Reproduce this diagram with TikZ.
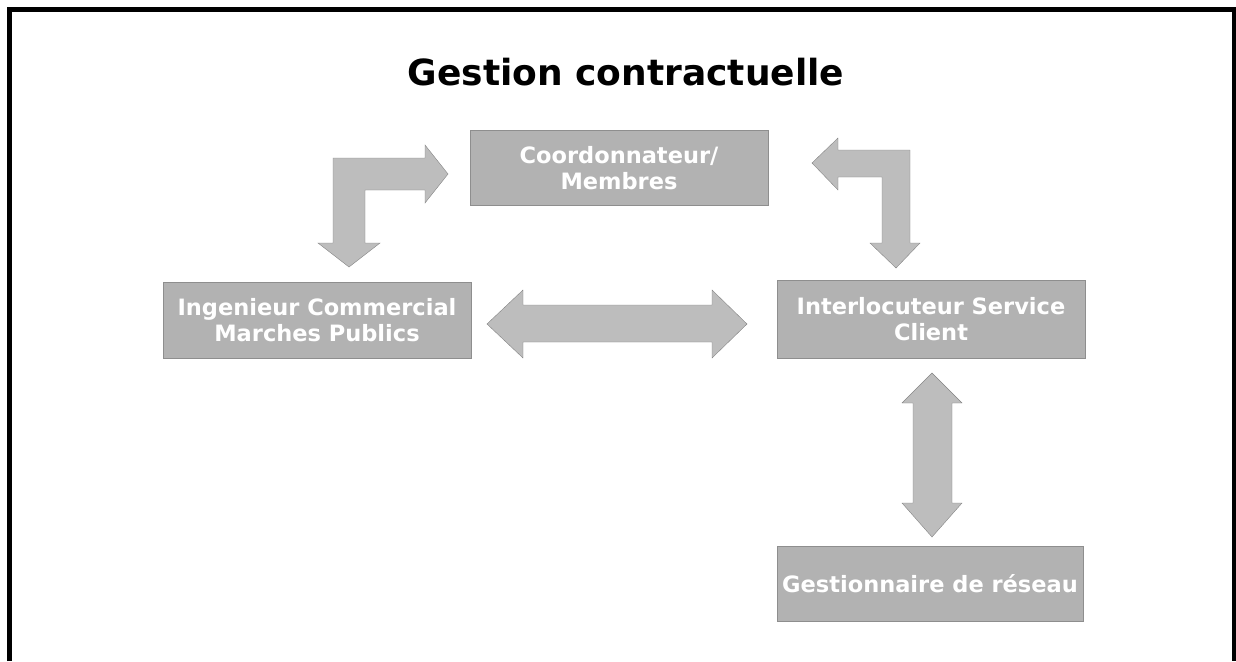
\documentclass[tikz,border=0pt]{standalone}
\usepackage{fontspec}
\setmainfont{DejaVu Sans}
\definecolor{boxgray}{HTML}{B2B2B2}
\definecolor{arrgray}{HTML}{BDBDBD}
\begin{document}
\begin{tikzpicture}[x=1pt,y=-1pt,
  role/.style={fill=boxgray,draw=boxgray!80!black,line width=0.4pt,inner sep=0pt,
    text=white,font=\fontsize{22.5}{26}\selectfont\bfseries,align=center},
  blockarrow/.style={fill=arrgray,draw=arrgray!70!black,line width=0.4pt,line join=miter}]
\useasboundingbox (0,0) rectangle (1236,661);
\draw[line width=5pt] (9,661) -- (9,10) -- (1234,10) -- (1234,661);
\node[font=\fontsize{36}{40}\selectfont\bfseries] (title) at (626,72) {Gestion contractuelle};
\node[role,minimum width=298pt,minimum height=75pt] (coord) at (619,168) {Coordonnateur/\\Membres};
\node[role,minimum width=308pt,minimum height=76pt] (ing) at (317,320) {Ingenieur Commercial\\Marches Publics};
\node[role,minimum width=308pt,minimum height=78pt] (inter) at (931,319) {Interlocuteur Service\\Client};
\node[role,minimum width=306pt,minimum height=75pt] (gest) at (930,584) {Gestionnaire de réseau};
% left bent arrow
\draw[blockarrow] (333,158) -- (425,158) -- (425,145) -- (448,174) -- (425,203) -- (425,190)
  -- (365,190) -- (365,243) -- (380,243) -- (349,267) -- (318,243) -- (333,243) -- cycle;
% right bent arrow
\draw[blockarrow] (910,150) -- (838,150) -- (838,138) -- (812,163) -- (838,190) -- (838,177)
  -- (882,177) -- (882,243) -- (870,243) -- (896,268) -- (920,243) -- (910,243) -- cycle;
% horizontal double arrow
\draw[blockarrow] (487,324) -- (523,290) -- (523,305) -- (712,305) -- (712,290) -- (747,324)
  -- (712,358) -- (712,342) -- (523,342) -- (523,358) -- cycle;
% vertical double arrow
\draw[blockarrow] (932,373) -- (962,403) -- (952,403) -- (952,503) -- (962,503) -- (932,537)
  -- (902,503) -- (913,503) -- (913,403) -- (902,403) -- cycle;
\end{tikzpicture}
\end{document}
